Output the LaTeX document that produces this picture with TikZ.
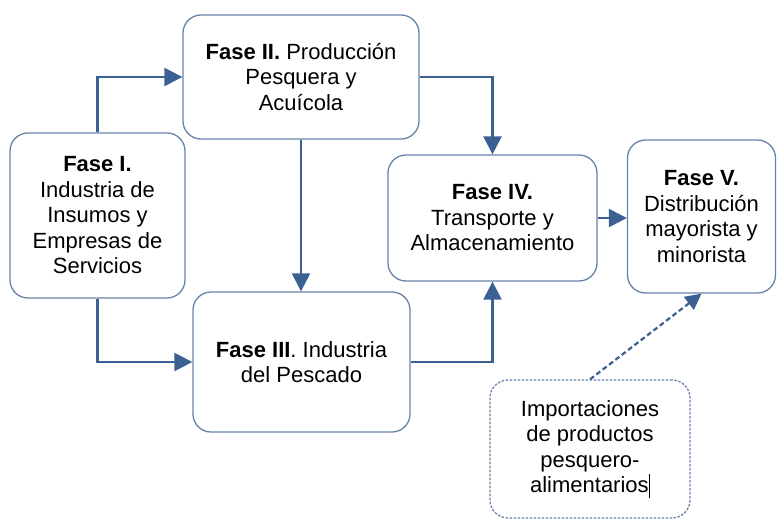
\documentclass[tikz,border=0pt]{standalone}
\usepackage{fontspec}
\setmainfont{Liberation Sans}
\usetikzlibrary{arrows.meta}
\definecolor{arrowblue}{RGB}{58,96,148}
\definecolor{boxline}{RGB}{104,130,168}
\tikzset{
  fasebox/.style={draw=boxline,line width=1.3pt,rounded corners=18pt,inner sep=0pt,align=center,
    font=\fontsize{22}{25.5}\selectfont},
  flow/.style={draw=arrowblue,line width=2.4pt,-{Triangle[length=18pt,width=18pt]}},
  importflow/.style={flow,line width=2.2pt,-{Triangle[length=16pt,width=16pt]},dash pattern=on 5pt off 3pt}
}
\begin{document}
\begin{tikzpicture}[x=1pt,y=-1pt]
\useasboundingbox (0,0) rectangle (777,520);
\node[fasebox,minimum width=175,minimum height=165] (f1) at (97.5,215.5) {\textbf{Fase I.}\\Industria de\\Insumos y\\Empresas de\\Servicios};
\node[fasebox,minimum width=236,minimum height=124] (f2) at (301,77) {\textbf{Fase II.} Producción\\Pesquera y\\Acuícola};
\node[fasebox,minimum width=217,minimum height=140] (f3) at (301.5,362) {\textbf{Fase III}. Industria\\del Pescado};
\node[fasebox,minimum width=209,minimum height=126] (f4) at (492.5,218) {\textbf{Fase IV.}\\Transporte y\\Almacenamiento};
\node[fasebox,minimum width=148,minimum height=153] (f5) at (701.5,216.5) {\textbf{Fase V.}\\Distribución\\mayorista y\\minorista};
\node[fasebox,dash pattern=on 2.5pt off 1.5pt,minimum width=200,minimum height=138] (imp) at (590,449) {Importaciones\\de productos\\pesquero-\\alimentarios\rule[-5pt]{1.2pt}{24pt}};
\draw[flow] (f1.north) |- (f2.west);
\draw[flow] (f1.south) |- (f3.west);
\draw[flow] (f2.south) -- (f2.south |- f3.north);
\draw[flow] (f2.east) -| (f4.north);
\draw[flow] (f3.east) -| (f4.south);
\draw[flow] (f4.east) -- (f4.east -| f5.west);
\draw[importflow] (imp.north) -- (f5.south);
\end{tikzpicture}
\end{document}
